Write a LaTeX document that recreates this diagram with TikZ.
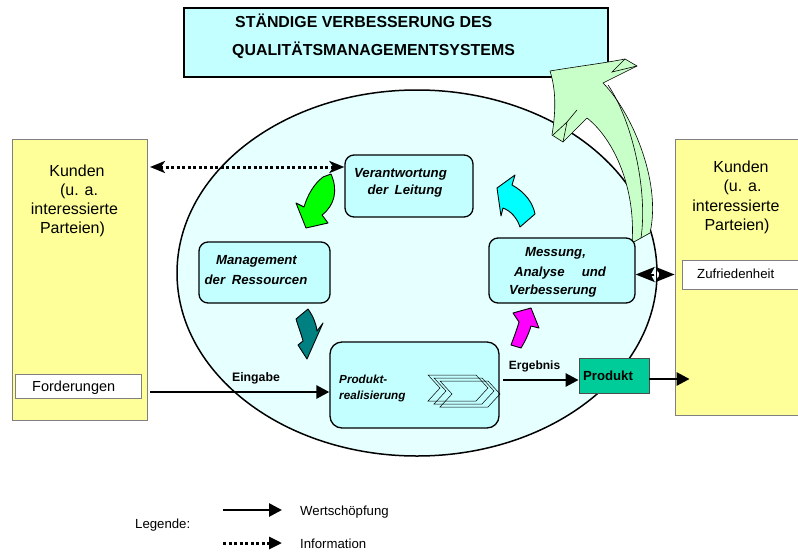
\documentclass[tikz,border=0pt]{standalone}
\usepackage{fontspec}
\setmainfont{Liberation Sans}
\usetikzlibrary{arrows.meta,shapes.geometric,calc}
\definecolor{ellfill}{HTML}{E6FFFF}
\definecolor{boxcyan}{HTML}{C4FFFF}
\definecolor{yel}{HTML}{FFFF99}
\definecolor{prodgreen}{HTML}{00CC99}
\definecolor{biggreen}{HTML}{C8FFC8}
\definecolor{agreen}{HTML}{00FF00}
\definecolor{ateal}{HTML}{008080}
\definecolor{amag}{HTML}{FF00FF}
\definecolor{acyan}{HTML}{00FFFF}
\begin{document}
\begin{tikzpicture}[x=1pt,y=-1pt,
  rbox/.style={draw=black, line width=1.3pt, fill=boxcyan, rounded corners=9pt, inner sep=0pt},
  ybox/.style={draw=gray, line width=0.8pt, fill=yel, inner sep=0pt},
  wbox/.style={draw=gray, line width=0.8pt, fill=white, inner sep=0pt},
  txt/.style={inner sep=0pt, anchor=base},
  txtw/.style={inner sep=0pt, anchor=base west},
  bi/.style={txt, font=\fontsize{13.2pt}{16pt}\selectfont\bfseries\itshape},
  kun/.style={txt, font=\fontsize{16pt}{19pt}\selectfont},
  flow/.style={line width=2.7pt, -{Triangle[length=13pt,width=13pt]}},
  info/.style={line width=3pt, dash pattern=on 3pt off 2.5pt},
  blk/.style={draw=black, line width=0.9pt, line join=round},
]
\useasboundingbox (0,0) rectangle (798,552);
\clip (0,0) rectangle (798,552);

% ellipse
\node[ellipse, draw=black, line width=1.5pt, fill=ellfill, minimum width=480pt, minimum height=366pt, inner sep=0pt] (ell) at (417,273) {};

% title box
\node[draw=black, line width=2.5pt, fill=boxcyan, minimum width=424pt, minimum height=69pt, inner sep=0pt] (tbox) at (396,42.5) {};
\node[txtw, font=\fontsize{15.9pt}{19pt}\selectfont\bfseries] (t1) at (235,27.5) {STÄNDIGE VERBESSERUNG DES};
\node[txtw, font=\fontsize{15.9pt}{19pt}\selectfont\bfseries] (t2) at (232,55.5) {QUALITÄTSMANAGEMENTSYSTEMS};

% big light green arrow
\draw[blk, fill=biggreen, line width=0.6pt] (550,71) .. controls (580,66) and (605,63) .. (625,59) -- (637,66) -- (603,83)
  .. controls (630,110) and (662,180) .. (650,233) -- (632,243)
  .. controls (636,190) and (615,140) .. (587,118) -- (563,142) -- (552,135)
  .. controls (556,110) and (556,90) .. cycle;
\draw[line width=0.6pt] (625,59) -- (612,72) -- (637,66);
\draw[line width=0.6pt] (608,85) .. controls (632,120) and (648,190) .. (641,238);
\draw[line width=0.6pt] (577,110) -- (567,122) -- (553,135);
\draw[line width=0.6pt] (567,122) -- (563,142);

% customer boxes
\node[ybox, minimum width=135pt, minimum height=281pt] (lk) at (79.5,279.5) {};
\node[ybox, minimum width=130pt, minimum height=276pt] (rk) at (740,277) {};
\node[wbox, minimum width=126pt, minimum height=24pt] (ford) at (78,386) {};
\node[wbox, minimum width=123pt, minimum height=29pt] (zuf) at (743.5,274.5) {};

\node[kun] (lk1) at (77,176) {Kunden};
\node[kun] (lk2) at (79,195) {(u. a.};
\node[kun] (lk3) at (74.5,214) {interessierte};
\node[kun] (lk4) at (72.5,233) {Parteien)};
\node[kun] (rk1) at (741,172) {Kunden};
\node[kun] (rk2) at (742.5,191.5) {(u. a.};
\node[kun] (rk3) at (736,211) {interessierte};
\node[kun] (rk4) at (737,230.5) {Parteien)};
\node[txtw, font=\fontsize{14.5pt}{17pt}\selectfont] (fordt) at (32,391) {Forderungen};
\node[txtw, font=\fontsize{13.2pt}{16pt}\selectfont] (zuft) at (697,278) {Zufriedenheit};

% process boxes
\node[rbox, minimum width=128pt, minimum height=62pt] (verantw) at (409,186) {};
\node[rbox, minimum width=131pt, minimum height=61pt] (mgmt) at (264.5,272.5) {};
\node[rbox, minimum width=146pt, minimum height=65pt] (mess) at (562,270.5) {};
\node[rbox, rounded corners=12pt, minimum width=169pt, minimum height=86pt] (prod) at (414.5,385) {};
\node[draw=black!70, line width=0.8pt, fill=prodgreen, minimum width=70pt, minimum height=35pt, inner sep=0pt] (produkt) at (614,375.5) {};

\node[bi] (v1) at (400.5,177) {Verantwortung};
\node[bi] (v2) at (405,194) {der\enspace Leitung};
\node[bi] (m1) at (256.5,264) {Management};
\node[bi] (m2) at (256,284) {der\enspace Ressourcen};
\node[bi] (a1) at (555.5,256) {Messung,};
\node[bi] (a2) at (560,276) {Analyse\hspace{1.3em}und};
\node[bi] (a3) at (553,294) {Verbesserung};
\node[txtw, font=\fontsize{11.7pt}{14pt}\selectfont\bfseries\itshape] (p1) at (339,383) {Produkt-};
\node[txtw, font=\fontsize{11.7pt}{14pt}\selectfont\bfseries\itshape] (p2) at (339,399) {realisierung};
\node[txt, font=\fontsize{13.2pt}{16pt}\selectfont\bfseries] (pt) at (608,380) {Produkt};

% chevrons
\foreach \i in {0,1,2}
  \draw[line width=0.5pt, shift={(428+6*\i,375+3*\i)}] (0,0) -- (48,0) -- (60,13) -- (48,26) -- (0,26) -- (12,13) -- cycle;

% small curved arrows
\draw[blk, fill=agreen] (323,177) -- (331,174) .. controls (338,190) and (335,205) .. (322,215) -- (328,223) -- (306,228) -- (296,203) -- (304,207) .. controls (308,194) and (314,184) .. cycle;
\draw[blk, fill=ateal] (296,319) -- (308,309) .. controls (313,316) and (316,323) .. (317,331) -- (323,323) -- (307,359) -- (298,345) -- (303,341) .. controls (301,333) and (298,326) .. cycle;
\draw[blk, fill=amag] (531,308) -- (539,328) -- (531,326) .. controls (528,336) and (524,343) .. (521,348) -- (511,345) .. controls (514,337) and (517,329) .. (519,322) -- (513,313) -- cycle;
\draw[blk, fill=acyan] (497,188) -- (515,175) -- (512,185) .. controls (525,192) and (533,203) .. (535,214) -- (520,227) .. controls (517,218) and (511,211) .. (503,208) -- (501,216) -- cycle;

% connectors
\coordinate (infoL) at (150,167);
\draw[info, {Stealth[length=15pt,width=12pt,inset=4pt]}-{Stealth[length=15pt,width=12pt,inset=4pt]}] (infoL) -- (infoL -| verantw.west);

\draw[line width=2pt, {Stealth[length=19pt,width=15pt,inset=4pt]}-{Stealth[length=19pt,width=15pt,inset=4pt]}] (mess.east |- zuf.west) -- ($(zuf.west)+(-7,0)$);
\fill[white] (656.5,274.5) ellipse (2.5 and 3.5);
\draw[line width=1pt] (656.5,271) -- (656.5,278);

\coordinate (eS) at (150,392);
\draw[flow] (eS) -- (eS -| prod.west);
\node[txt, font=\fontsize{12.3pt}{15pt}\selectfont\bfseries] (eing) at (256,381) {Eingabe};

\coordinate (rS) at (503,380);
\draw[flow] (rS) -- (rS -| produkt.west);
\node[txt, font=\fontsize{12pt}{15pt}\selectfont\bfseries] (erg) at (534.5,369) {Ergebnis};

\coordinate (pS) at (649,379);
\draw[flow] (pS) -- ($(pS -| rk.west)+(15,0)$);

% legend
\node[txtw, font=\fontsize{13.2pt}{16pt}\selectfont] (leg) at (135,528) {Legende:};
\node[txtw, font=\fontsize{13.2pt}{16pt}\selectfont] (wert) at (300,515) {Wertschöpfung};
\node[txtw, font=\fontsize{13.2pt}{16pt}\selectfont] (inf) at (300,548) {Information};
\coordinate (lg1) at (223,510);
\coordinate (lg2) at (223,543);
\draw[flow] (lg1) -- ($(lg1 -| wert.west)+(-18,0)$);
\draw[info, -{Triangle[length=13pt,width=12pt]}] (lg2) -- ($(lg2 -| inf.west)+(-18,0)$);
\end{tikzpicture}
\end{document}
